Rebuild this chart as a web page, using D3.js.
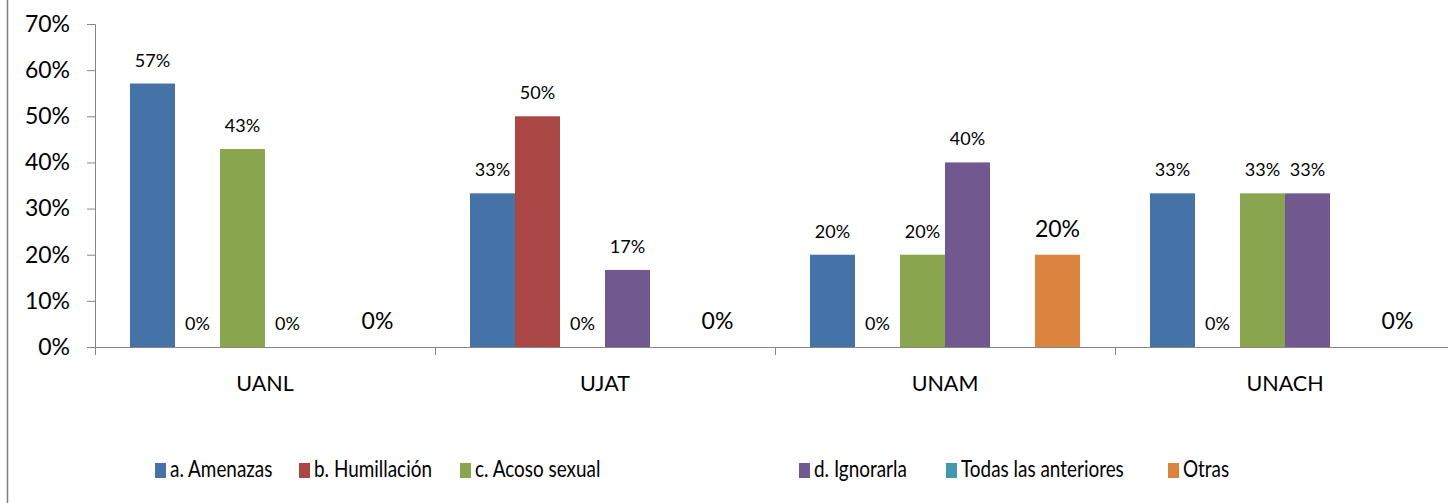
<!DOCTYPE html>
<html>
<head>
<meta charset="utf-8">
<script src="https://cdn.jsdelivr.net/npm/d3@7"></script>
<style>
  body { margin: 0; background: #fff; }
  svg { display: block; font-family: Lato, "Open Sans", sans-serif; }
</style>
</head>
<body>
<script>
const width = 1448;
const height = 503;

// data (null = no bar / no label)
const universities = ['UANL', 'UJAT', 'UNAM', 'UNACH'];
const seriesNames = ['a. Amenazas', 'b. Humillación', 'c. Acoso sexual', 'd. Ignorarla', 'Todas las anteriores', 'Otras'];
const seriesColors = ['#4572A7', '#AA4643', '#89A54E', '#71588F', '#4198AF', '#DB843D'];
const amenazas    = [0.571, 0.333, 0.20, 0.333];
const humillacion = [0, 0.50, 0, 0];
const acoso       = [0.429, 0, 0.20, 0.333];
const ignorarla   = [0, 0.167, 0.40, 0.333];
const todas       = [null, null, null, null];
const otras       = [0, 0, 0.20, 0];
const yTicks = [0, 0.1, 0.2, 0.3, 0.4, 0.5, 0.6, 0.7];

const seriesValues = [amenazas, humillacion, acoso, ignorarla, todas, otras];

const svg = d3.select('body').append('svg')
    .attr('width', width)
    .attr('height', height);

// outer frame line on the left
svg.append('line')
    .attr('x1', 7.5).attr('x2', 7.5)
    .attr('y1', 0).attr('y2', height)
    .attr('stroke', '#7f7f7f').attr('stroke-width', 1.5);

const x0 = d3.scaleBand()
    .domain(universities)
    .range([95, 1455]);

const x1 = d3.scaleBand()
    .domain(d3.range(seriesNames.length))
    .range([0, x0.bandwidth()])
    .paddingInner(0)
    .paddingOuter(35 / 45);

const y = d3.scaleLinear()
    .domain([0, 0.7])
    .range([347, 24]);

const pct = d3.format('.0%');

// y axis
const yAxis = svg.append('g')
    .attr('transform', 'translate(95,0)')
    .call(d3.axisLeft(y).tickValues(yTicks).tickFormat(pct).tickSize(8).tickPadding(17));
yAxis.selectAll('text').attr('font-size', 23).attr('fill', '#000').attr('font-family', 'Lato, sans-serif');
yAxis.selectAll('line').attr('stroke', '#868686');
yAxis.select('.domain').attr('stroke', '#868686').attr('d', 'M-8,24.5H0.5V347.5H-8');

// x axis line
svg.append('line')
    .attr('x1', 95).attr('x2', width)
    .attr('y1', y(0) + 0.5).attr('y2', y(0) + 0.5)
    .attr('stroke', '#868686');

// category separators
svg.selectAll('.sep')
  .data(universities)
  .enter().append('line')
    .attr('class', 'sep')
    .attr('x1', d => x0(d) + 0.5).attr('x2', d => x0(d) + 0.5)
    .attr('y1', y(0)).attr('y2', y(0) + 8)
    .attr('stroke', '#868686');

// category labels
svg.selectAll('.cat')
  .data(universities)
  .enter().append('text')
    .attr('class', 'cat')
    .attr('x', d => x0(d) + x0.bandwidth() / 2)
    .attr('y', 391)
    .attr('text-anchor', 'middle')
    .attr('font-size', 21.5)
    .text(d => d);

// bars
const flat = [];
universities.forEach((u, i) => {
  seriesValues.forEach((vals, s) => {
    flat.push({ u, s, v: vals[i] });
  });
});

const groups = svg.selectAll('.grp')
  .data(flat.filter(d => d.v !== null))
  .enter().append('g')
    .attr('transform', d => `translate(${x0(d.u) + x1(d.s)},0)`);

groups.filter(d => d.v > 0).append('rect')
    .attr('x', 0)
    .attr('y', d => y(d.v))
    .attr('width', x1.bandwidth())
    .attr('height', d => y(0) - y(d.v))
    .attr('fill', d => seriesColors[d.s]);

groups.append('text')
    .attr('x', x1.bandwidth() / 2)
    .attr('y', d => y(d.v) - (d.s === 5 ? 18 : 17))
    .attr('text-anchor', 'middle')
    .attr('font-size', d => d.s === 5 ? 23 : 18)
    .text(d => pct(d.v));

// legend
const legendX = [155, 299, 460, 799, 946, 1168];
const legend = svg.selectAll('.leg')
  .data(seriesNames)
  .enter().append('g')
    .attr('transform', (d, i) => `translate(${legendX[i]},463)`);

legend.append('rect')
    .attr('width', 11).attr('height', 15)
    .attr('fill', (d, i) => seriesColors[i]);

// legend text is a bit taller than wide in the reference
legend.append('text')
    .attr('transform', 'translate(15,14) scale(0.97,1.15)')
    .attr('font-size', 19.5)
    .text(d => d);
</script>
</body>
</html>
